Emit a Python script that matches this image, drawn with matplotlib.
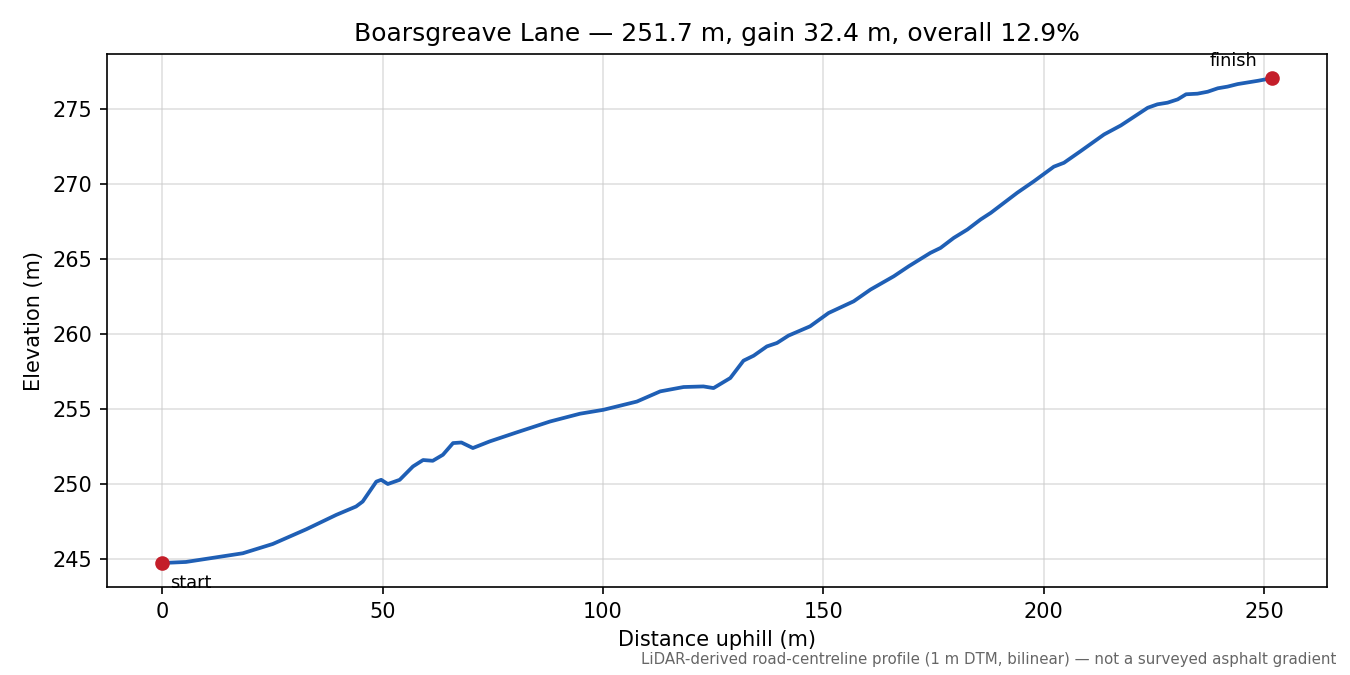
import matplotlib
matplotlib.use("Agg")
import matplotlib.pyplot as plt

# profile (distance uphill in m, elevation in m)
dist = [0, 5.4, 18.3, 25.1, 32.7, 39.5, 44.0, 45.5, 48.6, 49.7, 51.2, 53.9,
        56.9, 59.2, 61.4, 63.7, 66.0, 67.9, 70.5, 74.3, 80.4, 88.0, 94.8,
        100.1, 107.7, 113.0, 118.3, 122.8, 125.1, 128.9, 131.9, 134.2, 137.2,
        139.5, 142.1, 147.0, 151.2, 156.9, 160.7, 166.0, 169.4, 174.3, 176.6,
        179.6, 182.7, 185.7, 188.0, 191.0, 194.0, 197.8, 202.3, 204.6, 208.4,
        213.7, 217.5, 223.6, 225.8, 228.1, 230.4, 232.3, 234.9, 237.2, 239.5,
        241.7, 244.0, 248.6, 251.7]
elev = [244.73, 244.8, 245.38, 246.0, 246.98, 247.94, 248.5, 248.83, 250.16,
        250.28, 250.0, 250.28, 251.17, 251.6, 251.55, 251.95, 252.73, 252.77,
        252.4, 252.84, 253.44, 254.17, 254.69, 254.95, 255.5, 256.18, 256.47,
        256.51, 256.40, 257.07, 258.23, 258.56, 259.18, 259.41, 259.9, 260.52,
        261.41, 262.19, 262.97, 263.86, 264.53, 265.42, 265.75, 266.42, 266.98,
        267.65, 268.09, 268.76, 269.43, 270.2, 271.17, 271.43, 272.21, 273.32,
        273.92, 275.1, 275.33, 275.44, 275.66, 276.0, 276.04, 276.17, 276.4,
        276.51, 276.68, 276.9, 277.07]

road = "Boarsgreave Lane"
length_m = 251.7
gain_m = 32.4
grade_pct = 12.9

fig, ax = plt.subplots(figsize=(9, 4.5), dpi=150)
fig.subplots_adjust(left=0.079, right=0.983, top=0.92, bottom=0.13)

ax.plot(dist, elev, color="#1f5fb5", lw=1.8)
ax.plot([dist[0], dist[-1]], [elev[0], elev[-1]], "o", color="#c41e2a", ms=6)

ax.annotate("start", (dist[0], elev[0]), xytext=(4, -12),
            textcoords="offset points", ha="left", fontsize=8.5)
ax.annotate("finish", (dist[-1], elev[-1]), xytext=(-7, 6),
            textcoords="offset points", ha="right", fontsize=8.5)

ax.grid(True, color="#cccccc", alpha=0.6, lw=0.8)
ax.set_xlabel("Distance uphill (m)")
ax.set_ylabel("Elevation (m)")
ax.set_title(f"{road} \u2014 {length_m} m, gain {gain_m} m, overall {grade_pct}%")

fig.text(0.99, 0.012,
         "LiDAR-derived road-centreline profile (1 m DTM, bilinear) \u2014 not a surveyed asphalt gradient",
         ha="right", va="bottom", fontsize=7.2, color="#666666")

fig.savefig("out.png")
